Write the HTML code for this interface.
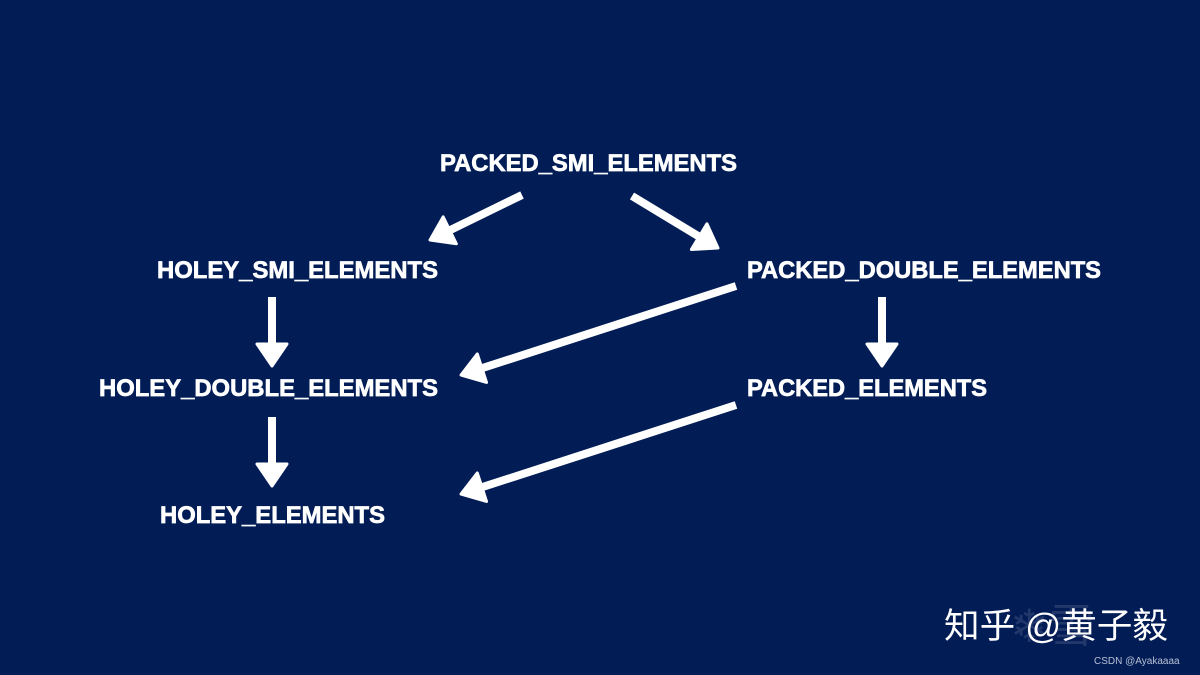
<!DOCTYPE html>
<html><head><meta charset="utf-8"><style>
html,body{margin:0;padding:0;background:#021c56;}
svg{display:block;}
</style></head><body>
<svg id="s" width="1200" height="675" viewBox="0 0 1200 675" xmlns="http://www.w3.org/2000/svg">
<rect width="1200" height="675" fill="#021c56"/>
<g id="arr"></g>
<g fill="#fff" stroke="#fff" stroke-width="0.7" font-family="'Liberation Sans',sans-serif" font-weight="bold" font-size="24">
<text x="440" y="171" textLength="297" lengthAdjust="spacingAndGlyphs">PACKED_SMI_ELEMENTS</text>
<text x="157" y="278" textLength="281" lengthAdjust="spacingAndGlyphs">HOLEY_SMI_ELEMENTS</text>
<text x="747" y="278" textLength="354" lengthAdjust="spacingAndGlyphs">PACKED_DOUBLE_ELEMENTS</text>
<text x="99" y="396" textLength="339" lengthAdjust="spacingAndGlyphs">HOLEY_DOUBLE_ELEMENTS</text>
<text x="747" y="396" textLength="240" lengthAdjust="spacingAndGlyphs">PACKED_ELEMENTS</text>
<text x="160" y="523" textLength="225" lengthAdjust="spacingAndGlyphs">HOLEY_ELEMENTS</text>
</g>
<text x="1010" y="642" fill="#2a3f70" font-family="'Noto Sans CJK SC',sans-serif" font-size="46" opacity="0.8">❄雪</text>
<text x="944" y="638" fill="#fff" font-family="'Liberation Sans','Noto Sans CJK SC',sans-serif" font-size="35" textLength="224" lengthAdjust="spacingAndGlyphs">知乎 @黄子毅</text>
<text x="1094" y="664" fill="#b8c0d4" font-family="'Liberation Sans',sans-serif" font-size="10">CSDN @Ayakaaaa</text>
</svg>
<script>
var A=[[522,195,430,240],[632,196,718,248],[272,297,272,366],[272,417,272,486],[882,297,882,366],[736,286,461,375],[736,405,461,494]];
var g=document.getElementById('arr'),h='';
A.forEach(function(a){var dx=a[2]-a[0],dy=a[3]-a[1],L=Math.hypot(dx,dy),ux=dx/L,uy=dy/L,px=-uy,py=ux,HL=22,HW=15;
var bx=a[2]-ux*HL,by=a[3]-uy*HL;
h+='<line x1="'+a[0]+'" y1="'+a[1]+'" x2="'+(bx+ux*2)+'" y2="'+(by+uy*2)+'" stroke="#fff" stroke-width="8"/>';
h+='<polygon points="'+a[2]+','+a[3]+' '+(bx+px*HW)+','+(by+py*HW)+' '+(bx-px*HW)+','+(by-py*HW)+'" fill="#fff" stroke="#fff" stroke-width="3" stroke-linejoin="round"/>';});
g.innerHTML=h;
</script>
</body></html>
